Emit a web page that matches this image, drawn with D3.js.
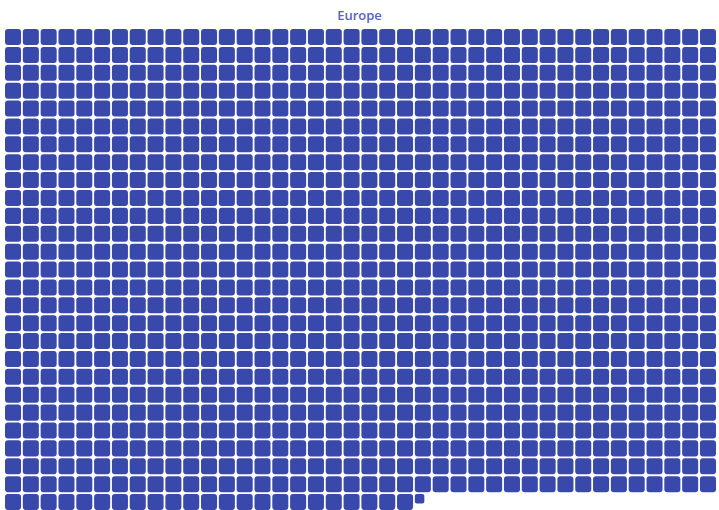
<!DOCTYPE html>
<html>
<head>
<meta charset="utf-8">
<script src="https://cdn.jsdelivr.net/npm/d3@7"></script>
<style>
  body { margin: 0; background: #fff; }
  svg { display: block; }
</style>
</head>
<body>
<svg id="chart" width="719" height="510"></svg>
<script>
// waffle data: one square per unit, last one scaled by the leftover fraction
const regions = ["Europe"];
const values = [1063.35];
const columnCount = 40;

const width = 719, height = 510;
const margin = { top: 29, right: 3, bottom: 1, left: 5 };
const color = "#3949ab";

const svg = d3.select("#chart");

const total = values[0];
const whole = Math.floor(total);
const rest = total - whole;
const rowCount = Math.ceil(total / columnCount);

// build cell list from the value
const cells = d3.range(Math.ceil(total)).map((i) => ({
  col: i % columnCount,
  row: Math.floor(i / columnCount),
  frac: i < whole ? 1 : rest,
}));

const x = d3.scaleBand()
  .domain(d3.range(columnCount))
  .range([margin.left, width - margin.right])
  .paddingInner(0.1)
  .paddingOuter(0);

const y = d3.scaleBand()
  .domain(d3.range(rowCount))
  .range([margin.top, margin.top + rowCount * x.step()])
  .paddingInner(0.1)
  .paddingOuter(0);

const side = d3.scaleSqrt().domain([0, 1]).range([0, x.bandwidth()]);

svg.append("text")
  .attr("x", width / 2)
  .attr("y", 20)
  .attr("text-anchor", "middle")
  .style("font", "600 13px 'Open Sans', sans-serif")
  .attr("fill", "#5563c1")
  .text(regions[0]);

svg.append("g")
  .selectAll("rect")
  .data(cells)
  .join("rect")
  .attr("x", (d) => x(d.col))
  .attr("y", (d) => y(d.row))
  .attr("width", (d) => side(d.frac))
  .attr("height", (d) => side(d.frac))
  .attr("rx", (d) => (d.frac < 1 ? 2 : 3))
  .attr("fill", color);
</script>
</body>
</html>
